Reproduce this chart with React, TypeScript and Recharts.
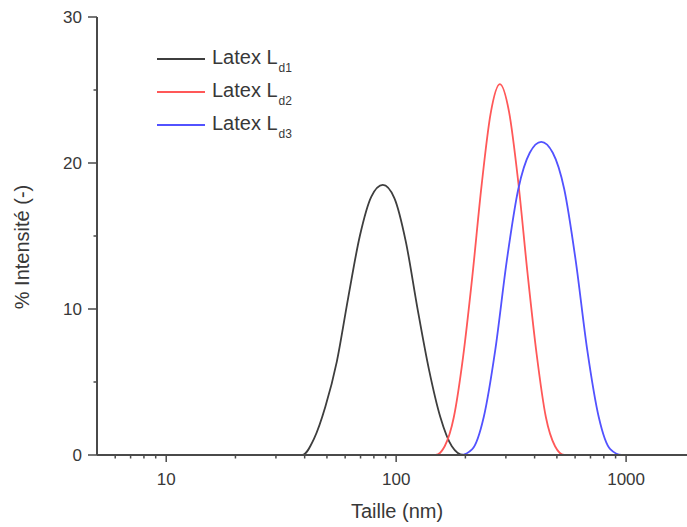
import { Label, Legend, Line, LineChart, XAxis, YAxis } from 'recharts';

// size (nm) / intensity (%)
const ld1Sizes = [5, 34.8, 39.1, 43.9, 49.2, 55.2, 61.9, 69.5, 78.0, 87.5, 98.2, 110.2, 123.6, 138.7, 155.6, 174.6, 195.9, 219.8, 1840];
const ld1Values = [0, 0, 0, 1.1, 3.3, 6.4, 10.8, 15.0, 17.7, 18.5, 17.6, 14.6, 10.1, 5.9, 2.6, 0.6, 0, 0, 0];

const ld2Sizes = [5, 148.3, 162.6, 178.2, 195.4, 214.3, 235.0, 257.6, 282.5, 309.7, 339.6, 372.4, 408.3, 447.7, 490.9, 538.3, 1840];
const ld2Values = [0, 0, 0.6, 2.6, 6.7, 12.2, 18.4, 23.4, 25.4, 23.5, 18.7, 12.5, 6.9, 2.6, 0.6, 0, 0];

const ld3Sizes = [5, 191.0, 214.3, 240.4, 269.8, 302.7, 339.6, 381.1, 427.6, 479.8, 538.3, 603.9, 677.6, 760.3, 853.1, 957.2, 1840];
const ld3Values = [0, 0, 0.4, 2.6, 7.2, 13.3, 18.2, 20.7, 21.45, 20.7, 18.2, 13.3, 7.2, 2.6, 0.4, 0, 0];

const xTicks = [6, 7, 8, 9, 10, 20, 30, 40, 50, 60, 70, 80, 90, 100, 200, 300, 400, 500, 600, 700, 800, 900, 1000];
const xMajor = [10, 100, 1000];
const yTicks = [0, 5, 10, 15, 20, 25, 30];
const yMajor = [0, 10, 20, 30];

const toPoints = (sizes: number[], values: number[]) => sizes.map((size, i) => ({ size, value: values[i] }));

const series = [
  { key: 'ld1', sub: 'd1', color: '#3e3e3e', data: toPoints(ld1Sizes, ld1Values) },
  { key: 'ld2', sub: 'd2', color: '#ff5858', data: toPoints(ld2Sizes, ld2Values) },
  { key: 'ld3', sub: 'd3', color: '#5252ff', data: toPoints(ld3Sizes, ld3Values) },
];

const FONT = '"Liberation Sans", Arial, sans-serif';
const TEXT = '#383838';
const AXIS = '#4a4a4a';

function XTick({ x, y, payload }: any) {
  const major = xMajor.includes(payload.value);
  return (
    <g>
      <line x1={x} x2={x} y1={y} y2={y + (major ? 7 : 3.5)} stroke={AXIS} strokeWidth={1.5} />
      {major ? (
        <text x={x} y={y + 30} textAnchor="middle" fontSize={17} fontFamily={FONT} fill={TEXT}>
          {payload.value}
        </text>
      ) : null}
    </g>
  );
}

function YTick({ x, y, payload }: any) {
  const major = yMajor.includes(payload.value);
  return (
    <g>
      <line x1={x - (major ? 9 : 3.5)} x2={x} y1={y} y2={y} stroke={AXIS} strokeWidth={1.5} />
      {major ? (
        <text x={x - 15} y={y} dy="0.35em" textAnchor="end" fontSize={17} fontFamily={FONT} fill={TEXT}>
          {payload.value}
        </text>
      ) : null}
    </g>
  );
}

function LegendBox() {
  return (
    <div style={{ fontFamily: FONT, color: TEXT }}>
      {series.map((s) => (
        <div key={s.key} style={{ display: 'flex', alignItems: 'center', height: 28, marginBottom: 5 }}>
          <svg width={48} height={4} style={{ marginRight: 7 }}>
            <line x1={0} x2={48} y1={2} y2={2} stroke={s.color} strokeWidth={2} />
          </svg>
          <span style={{ fontSize: 20, lineHeight: '23px', whiteSpace: 'nowrap' }}>
            Latex L
            <span style={{ fontSize: 12, position: 'relative', top: 8, marginLeft: 1 }}>{s.sub}</span>
          </span>
        </div>
      ))}
    </div>
  );
}

export default function App() {
  return (
    <div style={{ position: 'absolute', left: 0, top: 0, width: 687, height: 527, background: '#fff' }}>
      <LineChart width={687} height={527} margin={{ top: 17, right: 0, bottom: 0, left: 0 }}>
        <XAxis
          dataKey="size"
          type="number"
          scale="log"
          domain={[5, 1840]}
          ticks={xTicks}
          interval={0}
          height={72}
          tickSize={0}
          tickMargin={0}
          tickLine={false}
          tick={<XTick />}
          axisLine={{ stroke: AXIS, strokeWidth: 2 }}
          allowDuplicatedCategory={false}
        >
          <Label
            content={() => (
              <text x={397} y={518} textAnchor="middle" fontSize={20} fontFamily={FONT} fill={TEXT}>
                Taille (nm)
              </text>
            )}
          />
        </XAxis>
        <YAxis
          type="number"
          domain={[0, 30]}
          ticks={yTicks}
          interval={0}
          width={97}
          tickSize={0}
          tickMargin={0}
          tickLine={false}
          tick={<YTick />}
          axisLine={{ stroke: AXIS, strokeWidth: 2 }}
        >
          <Label
            content={() => (
              <text
                x={22}
                y={247}
                transform="rotate(-90 22 247)"
                dy="0.35em"
                textAnchor="middle"
                fontSize={20}
                fontFamily={FONT}
                fill={TEXT}
              >
                % Intensité (-)
              </text>
            )}
          />
        </YAxis>
        <Legend
          layout="horizontal"
          verticalAlign="middle"
          align="center"
          content={<LegendBox />}
          wrapperStyle={{ left: 157, top: 45, width: 200 }}
        />
        {series.map((s) => (
          <Line
            key={s.key}
            data={s.data}
            type="monotone"
            dataKey="value"
            name={s.key}
            stroke={s.color}
            strokeWidth={1.8}
            dot={false}
            activeDot={false}
            isAnimationActive={false}
          />
        ))}
      </LineChart>
    </div>
  );
}
